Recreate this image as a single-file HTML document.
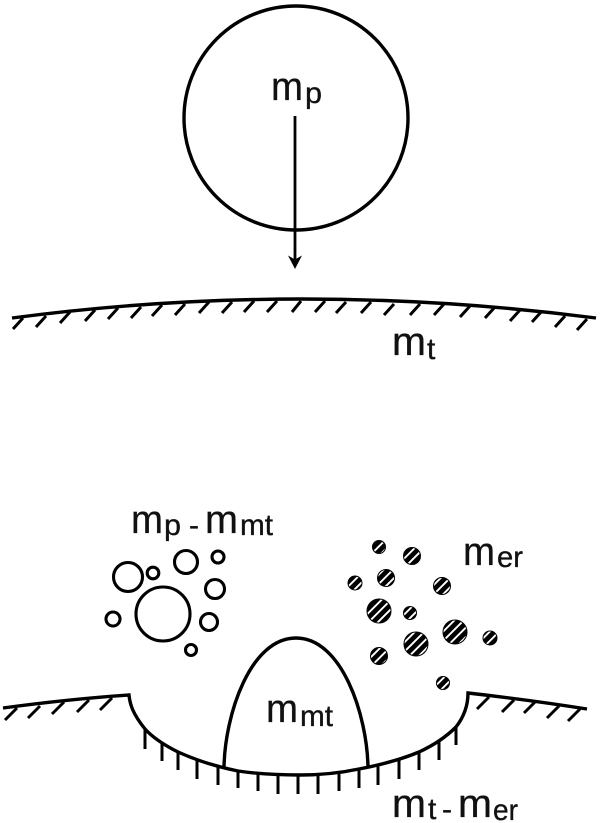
<!DOCTYPE html>
<html>
<head>
<meta charset="utf-8">
<style>
html,body{margin:0;padding:0;background:#fff;}
svg{display:block;}
text{font-family:"Liberation Sans",sans-serif;fill:#111;stroke:#111;stroke-width:.35px;}
.m{font-size:40px;}
.s{font-size:30px;}
</style>
</head>
<body>
<svg width="600" height="823" viewBox="0 0 600 823" xmlns="http://www.w3.org/2000/svg">
<defs>
<pattern id="h" width="6.6" height="6.6" patternUnits="userSpaceOnUse" patternTransform="rotate(45)">
<rect width="6.6" height="6.6" fill="#000"/>
<rect x="0" y="0" width="1.9" height="6.6" fill="#fff"/>
</pattern>
</defs>

<circle cx="296" cy="118" r="112" fill="none" stroke="#000" stroke-width="3.4"/>
<line x1="295" y1="116" x2="295" y2="260" stroke="#000" stroke-width="2.8"/>
<path d="M288 255.5 L295 259.5 L302 255.5 L295 269 Z" fill="#000"/>

<path d="M12 318 Q300 280 596 318" fill="none" stroke="#000" stroke-width="3.4"/>
<g stroke="#000" stroke-width="3" fill="none">
<path d="M13 329l10-11M36 327l10-11M60 323l10-11M85 321l10-11M108 319l10-11M131 318l10-11M152 316l10-11M175 315l10-11M199 313l10-11M222 313l10-11M244 312l10-11M267 312l10-11M292 312l9-11M315 312l10-11M336 313l10-11M361 313l10-11M384 315l10-11M410 315l10-11M434 315l10-11M460 317l10-11M485 318l10-11M510 321l10-11M532 322l10-11M555 327l10-11M577 330l10-11"/>
</g>

<path d="M3 708 Q70 699 129 695 C130 705 133 714 145 729 C155 740 170 748 178 752 C198 761 218 767 238 771 C258 774 278 775 300 775 C320 775 340 773 359 769 C380 765 400 760 419 752 C432 746 445 738 456 727 C463 718 468 706 468 693 Q530 700 587 709" fill="none" stroke="#000" stroke-width="3.4"/>
<g stroke="#000" stroke-width="3" fill="none">
<path d="M5 720l12-12M28 718l12-12M52 714l12-12M77 712l12-12M100 710l12-12M477 709l12-12M502 712l12-12M524 713l12-12M547 718l12-12M568 721l12-12"/>
<path d="M145 729V749M162 743V761M178 752V770M197 760V779M218 766V785M238 771V788M258 773V791M278 775V794M298 775V794M318 775V794M339 773V791M359 769V788M378 766V785M399 760V779M419 752V770M439 741V760M456 727V745"/>
</g>

<path d="M224 767 C225 715 250 638 296 638 C342 638 367 715 368 767" fill="none" stroke="#000" stroke-width="3.4"/>

<g fill="none" stroke="#000" stroke-width="3.1">
<circle cx="128" cy="577" r="14.5"/>
<circle cx="153" cy="573" r="5.8"/>
<circle cx="186" cy="562" r="11.5"/>
<circle cx="218" cy="557" r="6"/>
<circle cx="215" cy="589" r="9.5"/>
<circle cx="163" cy="614" r="27"/>
<circle cx="113" cy="619" r="7"/>
<circle cx="209" cy="622" r="8.5"/>
<circle cx="191" cy="650" r="5.5"/>
</g>

<g fill="url(#h)" stroke="#000" stroke-width="1">
<circle cx="379" cy="547" r="6.5"/>
<circle cx="412" cy="556" r="8.5"/>
<circle cx="355" cy="583" r="7"/>
<circle cx="386" cy="578" r="8.5"/>
<circle cx="442" cy="586" r="8.5"/>
<circle cx="379" cy="611" r="12"/>
<circle cx="410" cy="613" r="6.5"/>
<circle cx="455" cy="632" r="12"/>
<circle cx="416" cy="644" r="12"/>
<circle cx="490" cy="638" r="7"/>
<circle cx="379" cy="656" r="8.5"/>
<circle cx="443" cy="683" r="6.5"/>
</g>

<text class="m" x="271" y="100" textLength="32" lengthAdjust="spacingAndGlyphs">m</text>
<text class="s" x="305" y="103" textLength="17" lengthAdjust="spacingAndGlyphs">p</text>

<text class="m" x="392" y="355" textLength="34" lengthAdjust="spacingAndGlyphs">m</text>
<text class="s" x="427" y="359">t</text>

<text class="m" x="131" y="533" textLength="32" lengthAdjust="spacingAndGlyphs">m</text>
<text class="s" x="164" y="535" textLength="17" lengthAdjust="spacingAndGlyphs">p</text>
<text class="s" x="189" y="535">-</text>
<text class="m" x="205" y="533" textLength="33" lengthAdjust="spacingAndGlyphs">m</text>
<text class="s" x="240" y="535" textLength="33" lengthAdjust="spacingAndGlyphs">mt</text>

<text class="m" x="463" y="565" textLength="32" lengthAdjust="spacingAndGlyphs">m</text>
<text class="s" x="497" y="567" textLength="26" lengthAdjust="spacingAndGlyphs">er</text>

<text class="m" x="266" y="722" textLength="32" lengthAdjust="spacingAndGlyphs">m</text>
<text class="s" x="300" y="726" textLength="33" lengthAdjust="spacingAndGlyphs">mt</text>

<text class="m" x="392" y="817" textLength="34" lengthAdjust="spacingAndGlyphs">m</text>
<text class="s" x="428" y="819">t</text>
<text class="s" x="442" y="819">-</text>
<text class="m" x="458" y="817" textLength="34" lengthAdjust="spacingAndGlyphs">m</text>
<text class="s" x="493" y="820" textLength="25" lengthAdjust="spacingAndGlyphs">er</text>
</svg>
</body>
</html>
